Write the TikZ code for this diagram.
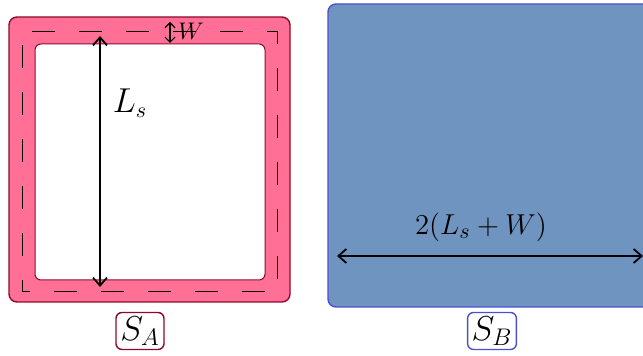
\documentclass[tikz,border=0pt]{standalone}
\usetikzlibrary{arrows.meta}
\definecolor{pinkfill}{HTML}{FF6F96}
\definecolor{pinkdraw}{HTML}{8E0A2C}
\definecolor{bluefill}{HTML}{7094C0}
\definecolor{bluedraw}{HTML}{4A50D0}
\tikzset{
  dim/.style={line width=0.9pt,{Straight Barb[length=4pt,width=7pt]}-{Straight Barb[length=4pt,width=7pt]}},
  lab/.style={draw,rounded corners=3pt,fill=white,line width=0.7pt,inner sep=2pt,minimum width=24pt,minimum height=18.5pt,font=\fontsize{16.5}{18}\selectfont},
}
\begin{document}
\begin{tikzpicture}[x=0.5pt,y=-0.5pt]
\useasboundingbox (0,0) rectangle (643,356);
% S_A
\draw[fill=pinkfill,draw=pinkdraw,line width=0.7pt,rounded corners=4pt] (9,17) rectangle (290,302);
\draw[fill=white,draw=pinkdraw,line width=0.5pt,rounded corners=3pt] (35,44) rectangle (265,280);
\draw[line width=0.45pt,dash pattern=on 11.5pt off 12pt,dash phase=6pt] (22,291) -- (22,31) -- (277,31) -- (277,291) -- cycle;
\coordinate (ltop) at (100,36);
\coordinate (lbot) at (100,287);
\draw[dim] (ltop) -- (lbot);
\node[font=\fontsize{16}{18}\selectfont] (ls) at (130,103) {$L_s$};
\coordinate (wtop) at (170,22);
\coordinate (wbot) at (170,43);
\draw[line width=0.6pt,{Straight Barb[length=2.5pt,width=5pt]}-{Straight Barb[length=2.5pt,width=5pt]}] (wtop) -- (wbot);
\node[font=\large] (w) at (191,31) {$W$};
\node[lab,draw=pinkdraw] (sa) at (140,331) {$S_A$};
% S_B
\draw[fill=bluefill,draw=bluedraw,line width=0.7pt,rounded corners=4pt] (328,4) rectangle (680,307);
\coordinate (hl) at (337,256);
\coordinate (hr) at (643,256);
\draw[dim] (hl) -- (hr);
\node[font=\fontsize{15.2}{17}\selectfont] (two) at (481,227) {$2(L_s+W)$};
\node[lab,draw=bluedraw] (sb) at (492,331) {$S_B$};
\end{tikzpicture}
\end{document}
